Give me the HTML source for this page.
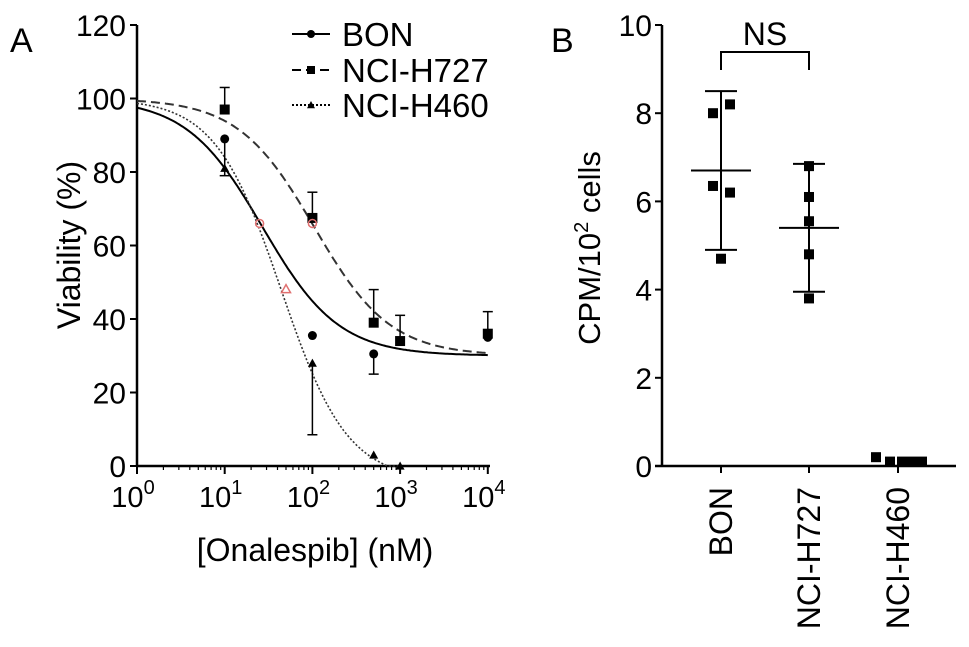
<!DOCTYPE html>
<html><head><meta charset="utf-8"><style>
body{margin:0;background:#fff}
svg{display:block;font-family:"Liberation Sans",sans-serif}
</style></head><body>
<svg id="c" width="969" height="647" viewBox="0 0 969 647">
<text x="10" y="52" font-size="34">A</text>
<text x="551" y="52" font-size="34">B</text>
<g id="ga"></g>
<g id="gb"></g>
</svg>
<script>
// Panel A data
const doses = [10, 100, 500, 1000, 10000];
const bonVals = [89, 35.5, 30.5, null, 35];
const bonErr = [-10, 0, -5.5, null, 0];
const h727Vals = [97, 67.5, 39, 34, 36];
const h727Err = [6, 7, 9, 7, 6];
const h460Vals = [81, 28, 3, 0, null];
const h460Err = [0, -19.5, 0, 0, null];
const yTicksA = [0, 20, 40, 60, 80, 100, 120];
const xExpA = [0, 1, 2, 3, 4];
// fit params: [top, bottom, ic50, hill]
const bonFit = [100, 30, 27, 1];
const h727Fit = [100, 30, 105, 1];
const h460Fit = [100, -4, 44, 1.15];
// Panel B data
const catsB = ["BON", "NCI-H727", "NCI-H460"];
const ptsB = [[8.0, 8.2, 6.35, 6.2, 4.7],[6.8, 6.1, 5.55, 4.8, 3.8],[0.2, 0.1, 0.1, 0.1, 0.1]];
const meanB = [6.7, 5.4, 0.1];
const sdB = [1.8, 1.45, 0.05];
const yTicksB = [0, 2, 4, 6, 8, 10];

const NS="http://www.w3.org/2000/svg";
function mk(p,t,a){const e=document.createElementNS(NS,t);for(const k in a)e.setAttribute(k,a[k]);p.appendChild(e);return e;}
const ga=document.getElementById('ga'), gb=document.getElementById('gb');
const xA=v=>137+87.7*Math.log10(v), yA=v=>466-v*3.675;
let e=mk(ga,'line',{x1:137,y1:25,x2:137,y2:467,stroke:'#000','stroke-width':2.5});

e=mk(ga,'line',{x1:136,y1:466,x2:490,y2:466,stroke:'#000','stroke-width':2.5});

yTicksA.forEach(t=>{mk(ga,'line',{x1:130,x2:137,y1:yA(t),y2:yA(t),stroke:'#000','stroke-width':2});
 e=mk(ga,'text',{x:126,y:yA(t)+11,'font-size':30,'text-anchor':'end'});e.textContent=t;
 });
xExpA.forEach(p=>{const x=xA(Math.pow(10,p));mk(ga,'line',{x1:x,x2:x,y1:466,y2:474,stroke:'#000','stroke-width':2});
 if(p<4)for(let m=2;m<10;m++){const xm=xA(m*Math.pow(10,p));mk(ga,'line',{x1:xm,x2:xm,y1:466,y2:470,stroke:'#000','stroke-width':1.2});}
 e=mk(ga,'text',{x:x-4,y:507,'font-size':29,'text-anchor':'middle'});e.innerHTML='10<tspan dy="-13" font-size="20">'+p+'</tspan>';
 });
e=mk(ga,'text',{x:80,y:245,'font-size':32,'text-anchor':'middle',transform:'rotate(-90 80 245)'});e.textContent='Viability (%)';

e=mk(ga,'text',{x:315,y:561,'font-size':32,'text-anchor':'middle'});e.textContent='[Onalespib] (nM)';

function curve(f,dash,w,name,maxX){let d='';for(let i=0;i<=200;i++){const lx=i/200*Math.log10(maxX);const v=Math.pow(10,lx);
 const y=Math.max(0,f[1]+(f[0]-f[1])/(1+Math.pow(v/f[2],f[3])));d+=(i?'L':'M')+xA(v).toFixed(1)+','+yA(y).toFixed(1);}
 const p=mk(ga,'path',{d:d,fill:'none',stroke:dash?'#333':'#000','stroke-width':w,'stroke-dasharray':dash||'none'});
 }
curve(bonFit,null,2,'bon-fit-curve',10000);
curve(h727Fit,'9,5',2,'h727-fit-curve',10000);
curve(h460Fit,'2,2',1.6,'h460-fit-curve',1000);
function marker(g,shape,x,y,s){if(shape==='c')return mk(g,'circle',{cx:x,cy:y,r:s,fill:'#000'});
 if(shape==='s')return mk(g,'rect',{x:x-s,y:y-s,width:2*s,height:2*s,fill:'#000'});
 return mk(g,'path',{d:`M${x},${y-s}L${x+s},${y+s*0.8}L${x-s},${y+s*0.8}Z`,fill:'#000'});}
function series(vals,errs,shape,name){vals.forEach((v,i)=>{if(v===null)return;const x=xA(doses[i]),y=yA(v);
 const er=errs[i];if(er){const y2=yA(v+er);mk(ga,'line',{x1:x,x2:x,y1:y,y2:y2,stroke:'#000','stroke-width':1.5});
  mk(ga,'line',{x1:x-5,x2:x+5,y1:y2,y2:y2,stroke:'#000','stroke-width':1.5});}
 const m=marker(ga,shape,x,y,shape==='s'?5:4.5);});}
series(bonVals,bonErr,'c','bon-point');
series(h727Vals,h727Err,'s','h727-point');
series(h460Vals,h460Err,'t','h460-point');
e=mk(ga,'circle',{cx:xA(25),cy:yA(66),r:4,fill:'none',stroke:'#e07070','stroke-width':1.5});
e=mk(ga,'circle',{cx:xA(100),cy:yA(66),r:4,fill:'none',stroke:'#e07070','stroke-width':1.5});
e=mk(ga,'path',{d:`M${xA(50)},${yA(48)-5}L${xA(50)+4.5},${yA(48)+3}L${xA(50)-4.5},${yA(48)+3}Z`,fill:'none',stroke:'#e07070','stroke-width':1.5});
[['BON',null,'c',34],['NCI-H727','9,5','s',70],['NCI-H460','2,2','t',105]].forEach(l=>{
 const g=mk(ga,'g',{});
 mk(g,'line',{x1:292,x2:330,y1:l[3],y2:l[3],stroke:'#000','stroke-width':2,'stroke-dasharray':l[1]||'none'});
 marker(g,l[2],311,l[3],4);const t=mk(g,'text',{x:342,y:l[3]+12,'font-size':33});t.textContent=l[0];});
// Panel B
const xB=[721,809,898], yB=v=>466-v*44.1;
e=mk(gb,'line',{x1:662,y1:25,x2:662,y2:467,stroke:'#000','stroke-width':2.5});
e=mk(gb,'line',{x1:655,y1:466,x2:956,y2:466,stroke:'#000','stroke-width':2.5});
yTicksB.forEach(t=>{mk(gb,'line',{x1:655,x2:662,y1:yB(t),y2:yB(t),stroke:'#000','stroke-width':2});
 e=mk(gb,'text',{x:652,y:yB(t)+11,'font-size':30,'text-anchor':'end'});e.textContent=t;});
e=mk(gb,'text',{x:600,y:248,'font-size':31,'text-anchor':'middle',transform:'rotate(-90 600 248)'});e.innerHTML='CPM/10<tspan dy="-12" font-size="20">2</tspan><tspan dy="12"> cells</tspan>';

const offs=[[-8,9,-8,9,0],[0,0,0,0,0],[-22,-8,4,14,24]];
catsB.forEach((c,i)=>{const x=xB[i];mk(gb,'line',{x1:x,x2:x,y1:466,y2:473,stroke:'#000','stroke-width':2});
 e=mk(gb,'text',{x:x+11,y:487,'font-size':32,'text-anchor':'end',transform:`rotate(-90 ${x+11} 487)`});e.textContent=c;
 
 if(i<2){const m=meanB[i],s=sdB[i];mk(gb,'line',{x1:x,x2:x,y1:yB(m+s),y2:yB(m-s),stroke:'#000','stroke-width':2});
  [m+s,m-s].forEach(v=>mk(gb,'line',{x1:x-16,x2:x+16,y1:yB(v),y2:yB(v),stroke:'#000','stroke-width':2}));
  e=mk(gb,'line',{x1:x-30,x2:x+30,y1:yB(m),y2:yB(m),stroke:'#000','stroke-width':2});}
 ptsB[i].forEach((v,j)=>{e=mk(gb,'rect',{x:x+offs[i][j]-5,y:yB(v)-5,width:10,height:10,fill:'#000'});
  });});
e=mk(gb,'path',{d:`M${xB[0]},70 V52 H${xB[1]} V70`,fill:'none',stroke:'#000','stroke-width':2});
e=mk(gb,'text',{x:765,y:45,'font-size':32,'text-anchor':'middle'});e.textContent='NS';
</script>
</body></html>
